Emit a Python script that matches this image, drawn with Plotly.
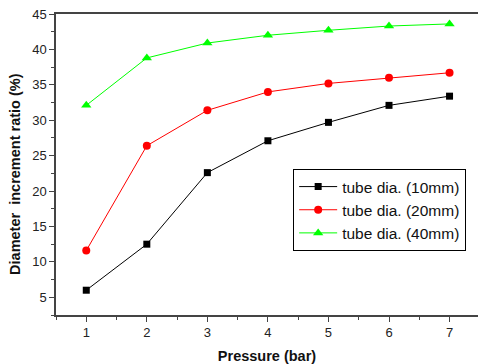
import plotly.graph_objects as go

pressure = [1, 2, 3, 4, 5, 6, 7]
tube_10mm = [6.0, 12.5, 22.6, 27.1, 29.7, 32.1, 33.4]
tube_20mm = [11.6, 26.4, 31.4, 34.0, 35.2, 36.0, 36.7]
tube_40mm = [32.1, 38.8, 40.9, 42.0, 42.7, 43.3, 43.6]

series = [
    ("tube dia. (10mm)", tube_10mm, "#000000", "square", 7),
    ("tube dia. (20mm)", tube_20mm, "#FF0000", "circle", 8),
    ("tube dia. (40mm)", tube_40mm, "#00FF00", "triangle-up", 9),
]

fig = go.Figure()
for name, vals, color, sym, sz in series:
    fig.add_trace(go.Scatter(
        x=pressure, y=vals, name=name, mode="lines+markers",
        line=dict(color=color, width=1),
        marker=dict(color=color, symbol=sym, size=sz, line=dict(width=0)),
    ))

axis_common = dict(
    showgrid=False, zeroline=False, showline=True, linecolor="#444", linewidth=1.5,
    ticks="outside", ticklen=5, tickwidth=1, tickcolor="#444",
    tickfont=dict(family="Arial, Liberation Sans", size=13, color="#222"),
)

fig.update_layout(
    width=478, height=364,
    margin=dict(l=56, r=0, t=14, b=46),
    paper_bgcolor="white", plot_bgcolor="white",
    font=dict(family="Arial, Liberation Sans", color="#111"),
    xaxis=dict(
        range=[0.5, 7.47], tick0=1, dtick=1, mirror=True,
        minor=dict(ticks="outside", ticklen=3, dtick=0.5, tick0=0.5, tickcolor="#444"),
        title=dict(text="<b>Pressure (bar)</b>", font=dict(size=14.5, color="#111"), standoff=14),
        **axis_common,
    ),
    yaxis=dict(
        range=[2.5, 45], tick0=0, dtick=5, mirror=False,
        minor=dict(ticks="outside", ticklen=3, dtick=2.5, tick0=0, tickcolor="#444"),
        **axis_common,
    ),
    legend=dict(
        x=0.562, y=0.485, xanchor="left", yanchor="top",
        bordercolor="#000", borderwidth=1, bgcolor="white",
        font=dict(family="Arial, Liberation Sans", size=15.5, color="#111"),
        tracegroupgap=0, itemwidth=38,
    ),
    annotations=[dict(
        text="<b>Diameter\u00a0 increment ratio (%)</b>", textangle=-90,
        xref="paper", yref="paper", x=-0.097, y=0.469, xanchor="center", yanchor="middle",
        showarrow=False, font=dict(size=14.5, color="#111"),
    )],
)

fig.write_html(
    "out.html",
    config={"displayModeBar": False},
    post_script="document.body.style.margin='0';document.body.style.overflow='hidden';",
)
